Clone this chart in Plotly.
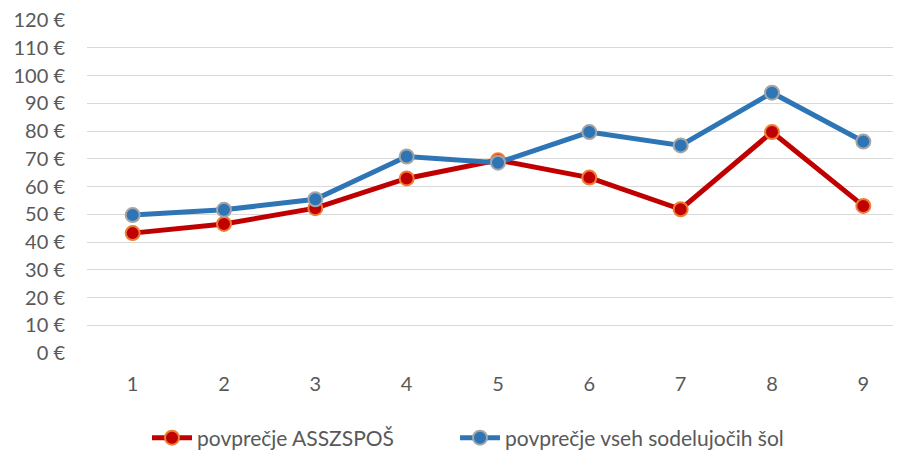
import plotly.graph_objects as go

categories = [1, 2, 3, 4, 5, 6, 7, 8, 9]
asszspos = [43.2, 46.5, 52.2, 62.9, 69.5, 63.2, 51.8, 79.6, 53.0]
vse_sole = [49.7, 51.6, 55.4, 70.8, 68.6, 79.6, 74.8, 93.8, 76.2]
y_ticks = list(range(0, 121, 10))

name_red = "povprečje ASSZSPOŠ"
name_blue = "povprečje vseh sodelujočih šol"

font_family = "Lato, Open Sans, sans-serif"
text_color = "#595959"

fig = go.Figure()
fig.add_trace(go.Scatter(
    x=categories, y=asszspos, name=name_red, mode="lines+markers",
    line=dict(color="#C00000", width=5),
    marker=dict(size=14, color="#C00000", line=dict(color="#ED7D31", width=2)),
    legend="legend",
))
fig.add_trace(go.Scatter(
    x=categories, y=vse_sole, name=name_blue, mode="lines+markers",
    line=dict(color="#2E75B6", width=5),
    marker=dict(size=14, color="#2E75B6", line=dict(color="#A5A5A5", width=2)),
    legend="legend2",
))

legend_common = dict(orientation="h", xref="container", xanchor="left",
                     yref="container", y=0.057, yanchor="middle",
                     font=dict(size=21, color=text_color), itemclick=False,
                     itemwidth=40, bgcolor="rgba(0,0,0,0)")

fig.update_layout(
    width=901, height=456,
    margin=dict(l=79, r=0, t=12, b=111, autoexpand=False),
    paper_bgcolor="white", plot_bgcolor="white",
    font=dict(family=font_family, size=20, color=text_color),
    showlegend=True,
    legend=dict(x=139 / 901, **legend_common),
    legend2=dict(x=447 / 901, **legend_common),
    xaxis=dict(range=[0.5, 9.5], tickmode="array", tickvals=categories,
               showgrid=False, zeroline=False, showline=False, ticks="",
               ticklabelstandoff=17, fixedrange=True),
    yaxis=dict(range=[0, 120], tickmode="array", tickvals=y_ticks,
               ticktext=[f"{v} €" for v in y_ticks],
               showgrid=True, gridcolor="#D9D9D9", gridwidth=1.3,
               zeroline=False, showline=False, ticks="",
               ticklabeloverflow="allow",
               ticklabelstandoff=21, fixedrange=True),
)

fig.write_html("out.html")
